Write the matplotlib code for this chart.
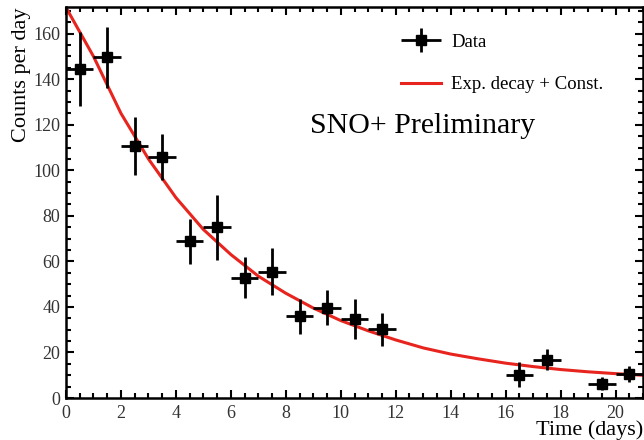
#!/usr/bin/python

# Counts per day vs time, with exponential decay + constant fit (ROOT-like style)

import matplotlib
matplotlib.use('Agg')
import matplotlib.pyplot as plt
from matplotlib.ticker import MultipleLocator
from matplotlib.container import ErrorbarContainer
from matplotlib.legend_handler import HandlerErrorbar

# data points (bin centres, counts per day, vertical errors)
t_days = [0.5, 1.5, 2.5, 3.5, 4.5, 5.5, 6.5, 7.5, 8.5, 9.5, 10.5, 11.5,
          16.5, 17.5, 19.5, 20.5]
counts = [144.4, 149.6, 110.6, 105.7, 68.9, 74.9, 52.9, 55.4, 35.9, 39.7,
          34.6, 30.1, 10.3, 16.9, 6.3, 10.7]
count_err = [16.2, 13.5, 12.7, 10.1, 9.9, 14.2, 9.1, 10.3, 7.6, 7.7,
             8.8, 7.2, 5.3, 4.5, 3.0, 3.5]
t_halfwidth = 0.5

# fit curve at whole days
fit_t = [0, 1, 2, 3, 4, 5, 6, 7, 8, 9, 10, 11, 12, 13, 14, 15, 16, 17,
         18, 19, 20, 21]
fit_counts = [171.5, 150.0, 125.0, 105.0, 88.0, 74.0, 63.0, 53.5, 46.0,
              39.5, 34.0, 29.5, 25.5, 22.0, 19.3, 17.2, 15.3, 13.8, 12.5,
              11.5, 10.7, 10.0]

plt.rcParams['font.family'] = ['Liberation Serif', 'DejaVu Serif']
plt.rcParams['mathtext.fontset'] = 'stix'

fig = plt.figure(figsize=(6.44, 4.4), dpi=100)
ax = fig.add_axes([66/644., 42/440., 577/644., 391/440.])

ax.plot(fit_t, fit_counts, '-', color='#e8241e', lw=2.2,
        label='Exp. decay + Const.', zorder=2)
ax.errorbar(t_days, counts, yerr=count_err, xerr=t_halfwidth, fmt='s',
            color='k', ms=7, elinewidth=2, capsize=0, label='Data', zorder=3)

ax.set_xlim(0, 21)
ax.set_ylim(0, 171.7)
ax.xaxis.set_major_locator(MultipleLocator(2))
ax.xaxis.set_minor_locator(MultipleLocator(0.5))
ax.yaxis.set_major_locator(MultipleLocator(20))
ax.yaxis.set_minor_locator(MultipleLocator(5))
ax.tick_params(which='both', direction='in', top=True, right=True,
               labelsize=13, width=1.5, colors='k')
ax.tick_params(axis='y', labelcolor='#333333', pad=4)
ax.tick_params(axis='x', labelcolor='#333333', pad=5)
ax.tick_params(which='major', length=6)
ax.tick_params(which='minor', length=3.5)
for sp in ax.spines.values():
    sp.set_linewidth(1.8)

ax.set_xlabel('Time (days)', fontsize=16, loc='right', labelpad=-1)
ax.set_ylabel('Counts per day', fontsize=16, loc='top', labelpad=2)

h, l = ax.get_legend_handles_labels()
ax.legend(h[::-1], l[::-1], loc='upper left', bbox_to_anchor=(0.552, 0.975),
          frameon=False, fontsize=13.5, handlelength=2.1, labelspacing=1.35,
          handletextpad=0.55,
          handler_map={ErrorbarContainer: HandlerErrorbar(xerr_size=1.05,
                                                          yerr_size=0.64)})

ax.text(0.423, 0.678, 'SNO+ Preliminary', transform=ax.transAxes,
        fontsize=21.5, ha='left', va='baseline')

fig.savefig('out.png', dpi=100)
